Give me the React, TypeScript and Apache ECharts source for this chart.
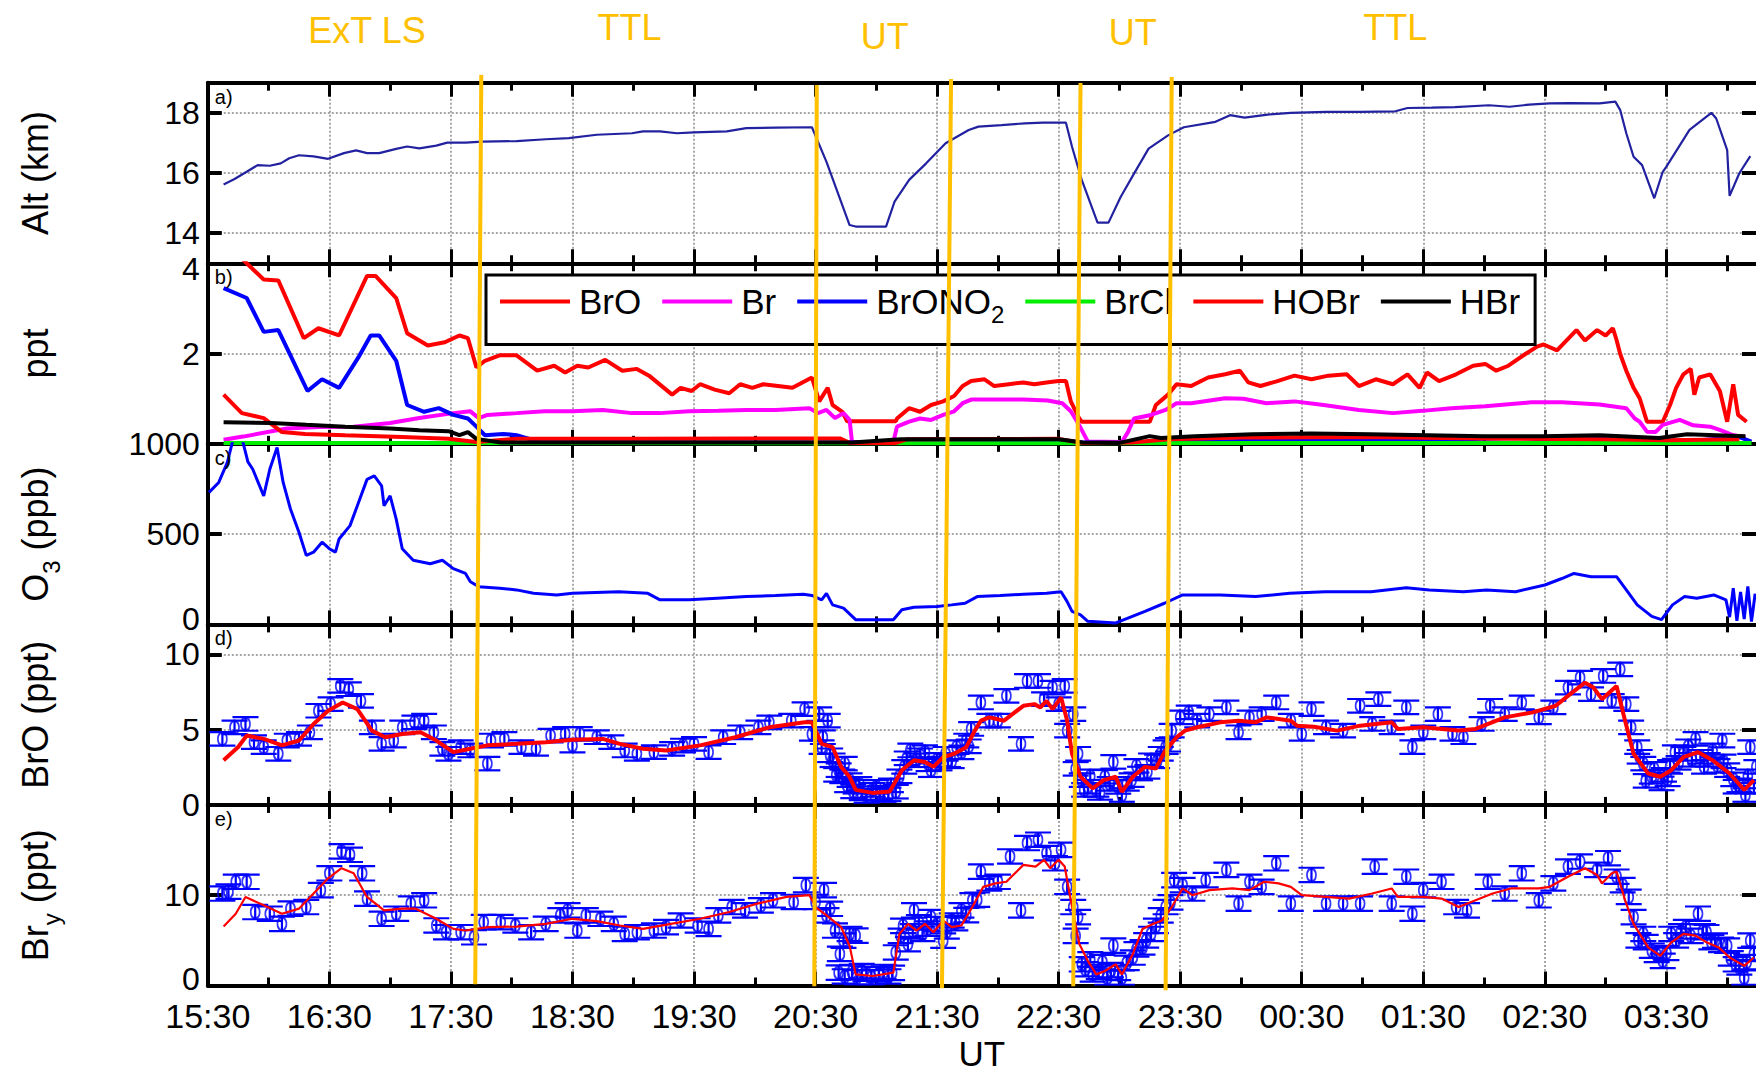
import React, { useEffect, useRef } from 'react';
import * as echarts from 'echarts';

// ---------------- DATA (x = hours since 15:30 UT) ----------------
const X_TICK_LABELS = ['15:30', '16:30', '17:30', '18:30', '19:30', '20:30', '21:30', '22:30', '23:30', '00:30', '01:30', '02:30', '03:30'];
const ALT_TICKS = [14, 16, 18];
const PPT_TICKS = [2, 4];
const O3_TICKS = [0, 500, 1000];
const BRO_TICKS = [0, 5, 10];
const BRY_TICKS = [0, 10];

const Y_TITLES = ['Alt (km)', 'ppt', '{a|O}{s|3}{a| (ppb)}', 'BrO (ppt)', '{a|Br}{s|y}{a| (ppt)}'];
const PANEL_LETTERS = ['a)', 'b)', 'c)', 'd)', 'e)'];
const X_TITLE = 'UT';

const REGION_NAMES = ['ExT LS', 'TTL', 'UT', 'UT', 'TTL'];
const REGION_NAME_T = [1.31, 3.47, 5.57, 7.61, 9.77];
// boundary lines: [time, Alt km] at top, [time, Bry ppt] at bottom
const REGION_LINE_TOP = [[2.25, 19.26], [5.01, 18.92], [6.115, 19.12], [7.18, 18.99], [7.93, 19.19]];
const REGION_LINE_BOTTOM = [[2.2, 0.15], [4.99, -0.08], [6.04, -0.3], [7.12, -0.08], [7.88, -0.53]];

const ALT = [[0.13,15.62],[0.22,15.8],[0.32,16.04],[0.41,16.26],[0.51,16.24],[0.6,16.32],[0.67,16.49],[0.75,16.59],[0.87,16.55],[0.99,16.47],[1.12,16.66],[1.22,16.75],[1.31,16.66],[1.41,16.66],[1.55,16.8],[1.64,16.88],[1.74,16.82],[1.88,16.91],[1.97,17.01],[2.12,17.01],[2.26,17.04],[2.54,17.06],[2.78,17.12],[2.97,17.16],[3.2,17.27],[3.49,17.32],[3.58,17.38],[3.72,17.38],[3.86,17.32],[4.0,17.35],[4.27,17.38],[4.43,17.49],[4.67,17.51],[4.97,17.52],[5.09,16.37],[5.28,14.27],[5.33,14.22],[5.58,14.22],[5.65,15.05],[5.77,15.77],[5.91,16.32],[6.07,16.99],[6.26,17.43],[6.34,17.54],[6.53,17.59],[6.72,17.65],[6.87,17.67],[7.06,17.67],[7.11,16.87],[7.19,15.77],[7.32,14.35],[7.41,14.35],[7.51,15.2],[7.62,15.98],[7.74,16.81],[7.9,17.25],[8.03,17.52],[8.29,17.7],[8.41,17.92],[8.53,17.84],[8.72,17.94],[8.91,18.0],[9.2,18.03],[9.48,18.03],[9.77,18.05],[9.87,18.16],[10.07,18.17],[10.26,18.19],[10.54,18.25],[10.71,18.2],[10.87,18.27],[11.04,18.31],[11.2,18.32],[11.45,18.31],[11.58,18.37],[11.62,18.09],[11.67,17.32],[11.73,16.54],[11.8,16.26],[11.9,15.16],[11.97,16.04],[12.0,16.21],[12.19,17.43],[12.37,18.0],[12.41,17.81],[12.5,16.76],[12.52,15.24],[12.6,15.99],[12.69,16.56]];

const B_NAMES = ['BrO', 'Br', 'BrONO2', 'BrCl', 'HOBr', 'HBr'];
const B_BRO = [[0.13,4.5],[0.32,4.0],[0.46,3.64],[0.58,3.62],[0.79,2.34],[0.91,2.56],[1.08,2.4],[1.31,3.72],[1.38,3.72],[1.55,3.23],[1.64,2.45],[1.81,2.18],[1.95,2.25],[2.07,2.4],[2.14,2.34],[2.21,1.69],[2.28,1.84],[2.4,1.96],[2.54,1.96],[2.71,1.62],[2.85,1.73],[2.94,1.58],[3.04,1.73],[3.13,1.69],[3.27,1.86],[3.41,1.62],[3.53,1.66],[3.63,1.51],[3.82,1.09],[3.89,1.24],[3.98,1.17],[4.05,1.32],[4.17,1.2],[4.29,1.12],[4.38,1.32],[4.48,1.24],[4.57,1.32],[4.81,1.24],[4.97,1.47],[5.03,0.94],[5.1,1.24],[5.14,0.86],[5.22,0.71],[5.26,0.5],[5.66,0.5],[5.67,0.56],[5.77,0.79],[5.86,0.71],[5.95,0.86],[6.05,0.94],[6.14,1.06],[6.21,1.28],[6.28,1.39],[6.39,1.43],[6.47,1.28],[6.59,1.32],[6.71,1.36],[6.8,1.32],[6.9,1.36],[7.0,1.39],[7.06,1.39],[7.1,0.94],[7.17,0.56],[7.19,0.49],[7.75,0.49],[7.8,0.86],[7.9,1.09],[7.97,1.32],[8.09,1.28],[8.23,1.47],[8.37,1.54],[8.49,1.62],[8.56,1.36],[8.66,1.28],[8.8,1.39],[8.94,1.51],[9.08,1.43],[9.22,1.51],[9.37,1.54],[9.47,1.28],[9.61,1.43],[9.75,1.32],[9.87,1.54],[9.97,1.24],[10.03,1.58],[10.13,1.39],[10.27,1.54],[10.41,1.73],[10.51,1.77],[10.6,1.62],[10.7,1.73],[10.84,1.99],[10.94,2.16],[10.99,2.2],[11.1,2.07],[11.26,2.52],[11.33,2.29],[11.43,2.52],[11.5,2.4],[11.56,2.56],[11.59,2.3],[11.62,1.99],[11.67,1.62],[11.73,1.24],[11.78,1.01],[11.84,0.49],[11.97,0.49],[12.03,0.86],[12.08,1.24],[12.14,1.54],[12.2,1.66],[12.23,1.09],[12.27,1.47],[12.36,1.54],[12.44,1.17],[12.5,0.49],[12.55,1.32],[12.59,0.64],[12.66,0.49]];
const B_BR = [[0.13,0.09],[0.29,0.16],[0.65,0.34],[0.92,0.37],[1.2,0.38],[1.5,0.46],[1.74,0.57],[2.02,0.68],[2.16,0.72],[2.23,0.57],[2.3,0.64],[2.54,0.68],[2.77,0.72],[3.0,0.72],[3.25,0.75],[3.49,0.68],[3.72,0.68],[3.96,0.72],[4.2,0.73],[4.43,0.75],[4.67,0.75],[4.95,0.79],[5.02,0.68],[5.09,0.75],[5.16,0.57],[5.23,0.68],[5.28,0.53],[5.3,0.04],[5.64,0.04],[5.67,0.38],[5.77,0.49],[5.86,0.56],[5.95,0.53],[6.05,0.64],[6.14,0.72],[6.21,0.9],[6.28,0.98],[6.47,0.98],[6.71,0.98],[6.91,0.96],[7.03,0.9],[7.1,0.72],[7.17,0.41],[7.24,0.05],[7.52,0.04],[7.57,0.26],[7.62,0.56],[7.76,0.64],[7.88,0.75],[7.97,0.9],[8.09,0.9],[8.37,1.01],[8.52,1.0],[8.71,0.9],[8.94,0.94],[9.18,0.86],[9.47,0.75],[9.75,0.68],[9.99,0.73],[10.23,0.79],[10.51,0.83],[10.89,0.92],[11.14,0.92],[11.45,0.87],[11.67,0.79],[11.74,0.56],[11.78,0.49],[11.84,0.27],[11.91,0.26],[11.97,0.42],[12.11,0.53],[12.22,0.41],[12.36,0.38],[12.45,0.3],[12.55,0.19],[12.65,0.15]];
const B_BRONO2 = [[0.13,3.45],[0.32,3.23],[0.46,2.48],[0.58,2.52],[0.68,1.96],[0.82,1.17],[0.94,1.43],[1.08,1.24],[1.24,1.92],[1.34,2.4],[1.41,2.4],[1.55,1.84],[1.64,0.86],[1.78,0.71],[1.9,0.79],[2.02,0.64],[2.14,0.56],[2.21,0.38],[2.28,0.19],[2.43,0.22],[2.54,0.19],[2.73,0.04],[5.0,0.03],[7.8,0.03],[8.5,0.06],[9.5,0.08],[10.3,0.1],[10.8,0.13],[11.0,0.1],[11.4,0.12],[11.8,0.08],[12.2,0.06],[12.6,0.15],[12.7,0.05]];
const B_BRCL = [[0.13,0.02],[3.0,0.02],[6.0,0.01],[9.0,0.02],[12.7,0.02]];
const B_HOBR = [[0.13,1.09],[0.28,0.68],[0.46,0.57],[0.61,0.26],[0.8,0.22],[1.13,0.19],[1.6,0.15],[1.98,0.11],[2.21,0.04],[2.54,0.11],[3.5,0.11],[4.5,0.12],[5.2,0.12],[5.28,0.02],[5.66,0.02],[5.75,0.1],[7.0,0.11],[7.2,0.02],[7.6,0.03],[7.9,0.1],[8.5,0.14],[9.5,0.15],[10.5,0.12],[11.5,0.1],[12.0,0.08],[12.6,0.1]];
const B_HBR = [[0.13,0.48],[0.52,0.46],[0.81,0.42],[1.13,0.38],[1.5,0.34],[1.74,0.3],[1.98,0.28],[2.07,0.19],[2.14,0.26],[2.21,0.11],[2.41,0.03],[5.3,0.03],[5.7,0.1],[7.0,0.1],[7.2,0.03],[7.5,0.02],[7.75,0.17],[7.84,0.13],[8.12,0.17],[8.6,0.21],[9.08,0.23],[9.56,0.21],[10.03,0.19],[10.5,0.17],[10.98,0.17],[11.45,0.19],[11.94,0.13],[12.17,0.21],[12.65,0.17]];

const O3 = [[0.01,731],[0.09,786],[0.16,896],[0.21,1030],[0.27,1060],[0.33,900],[0.37,859],[0.46,712],[0.51,859],[0.57,980],[0.62,786],[0.68,639],[0.75,510],[0.81,382],[0.87,400],[0.94,455],[1.0,419],[1.05,400],[1.08,473],[1.17,547],[1.24,675],[1.31,803],[1.37,822],[1.43,767],[1.45,657],[1.5,712],[1.55,583],[1.6,419],[1.69,355],[1.83,336],[1.93,355],[2.02,309],[2.12,282],[2.16,236],[2.23,209],[2.4,200],[2.54,191],[2.68,172],[2.87,163],[3.0,172],[3.38,181],[3.62,172],[3.72,136],[3.96,136],[4.19,145],[4.43,154],[4.67,160],[4.9,167],[4.97,160],[5.05,136],[5.09,172],[5.14,108],[5.23,90],[5.33,26],[5.64,26],[5.71,81],[5.81,95],[6.0,99],[6.12,108],[6.23,117],[6.33,154],[6.52,160],[6.71,167],[6.9,172],[7.02,181],[7.07,126],[7.11,72],[7.18,53],[7.24,17],[7.47,8],[7.57,35],[7.71,72],[7.87,117],[8.02,163],[8.33,163],[8.62,154],[8.9,172],[9.19,181],[9.57,181],[9.86,203],[10.05,191],[10.33,181],[10.52,191],[10.76,181],[11.0,218],[11.14,254],[11.24,282],[11.38,264],[11.59,264],[11.67,191],[11.76,108],[11.88,44],[11.96,26],[12.05,108],[12.15,154],[12.25,145],[12.39,163],[12.49,136],[12.52,40],[12.55,200],[12.58,20],[12.61,180],[12.64,30],[12.67,210],[12.7,15],[12.73,170]];

const BRO_ERR = 0.45;
const BRO_OBS = [[0.12,4.39],[0.22,5.16],[0.31,5.38],[0.38,4.17],[0.46,3.84],[0.58,3.4],[0.65,4.28],[0.75,4.39],[0.84,4.83],[0.91,6.26],[1.01,6.7],[1.09,7.91],[1.16,7.69],[1.26,6.92],[1.35,5.16],[1.43,4.06],[1.53,4.28],[1.6,5.16],[1.7,5.49],[1.78,5.6],[1.86,4.83],[1.93,3.73],[1.98,3.4],[2.08,3.84],[2.16,3.62],[2.3,2.75],[2.33,4.28],[2.44,4.39],[2.58,3.84],[2.7,3.73],[2.82,4.61],[2.94,4.72],[3.0,3.95],[3.06,4.72],[3.2,4.5],[3.32,4.17],[3.43,3.62],[3.53,3.4],[3.67,3.51],[3.82,3.73],[3.91,3.95],[4.0,4.06],[4.12,3.51],[4.24,4.5],[4.38,4.83],[4.53,5.16],[4.62,5.49],[4.8,5.6],[4.91,6.37],[4.97,4.72],[5.03,6.04],[5.05,3.84],[5.06,4.5],[5.1,5.6],[5.12,3.3],[5.14,2.97],[5.17,2.0],[5.19,2.31],[5.22,1.9],[5.24,2.75],[5.26,1.3],[5.28,1.65],[5.31,0.9],[5.33,1.21],[5.36,1.4],[5.38,0.77],[5.42,0.6],[5.47,1.0],[5.5,1.2],[5.53,0.8],[5.56,0.66],[5.6,0.7],[5.62,1.3],[5.66,0.88],[5.69,1.9],[5.73,2.53],[5.75,3.1],[5.78,3.62],[5.83,2.97],[5.86,3.3],[5.9,3.51],[5.93,2.7],[5.95,2.31],[6.0,3.0],[6.02,2.75],[6.07,3.4],[6.09,2.97],[6.12,2.9],[6.16,3.84],[6.2,3.5],[6.24,4.28],[6.26,3.9],[6.28,5.05],[6.36,6.81],[6.43,5.6],[6.5,5.6],[6.57,7.25],[6.69,4.06],[6.74,8.24],[6.83,8.24],[6.88,7.03],[6.95,7.8],[7.0,6.7],[7.05,7.91],[7.07,4.94],[7.12,6.04],[7.14,2.4],[7.16,3.4],[7.19,1.65],[7.21,1.0],[7.24,1.21],[7.26,1.9],[7.31,1.0],[7.34,0.8],[7.38,1.87],[7.42,1.4],[7.45,2.86],[7.49,1.2],[7.52,0.66],[7.56,1.4],[7.6,1.65],[7.64,2.6],[7.67,2.09],[7.73,2.2],[7.76,2.97],[7.81,2.9],[7.84,3.4],[7.88,3.84],[7.9,4.0],[7.93,4.94],[8.0,5.82],[8.07,6.15],[8.14,5.6],[8.24,6.04],[8.38,6.48],[8.48,4.83],[8.57,5.82],[8.67,6.04],[8.79,6.81],[8.91,5.6],[9.0,4.72],[9.08,6.37],[9.2,5.16],[9.34,4.94],[9.48,6.59],[9.58,5.38],[9.63,7.03],[9.74,5.16],[9.86,6.48],[9.91,3.84],[10.0,4.83],[10.12,6.04],[10.24,4.72],[10.33,4.5],[10.48,5.38],[10.55,6.59],[10.67,6.04],[10.81,6.81],[10.95,5.82],[11.07,6.48],[11.19,7.8],[11.29,8.46],[11.38,7.36],[11.48,8.57],[11.55,6.92],[11.62,9.01],[11.67,6.7],[11.71,5.16],[11.76,3.84],[11.78,3.2],[11.81,2.75],[11.83,1.6],[11.88,1.87],[11.9,2.4],[11.96,1.43],[11.98,2.0],[12.01,1.7],[12.03,2.53],[12.07,3.51],[12.1,2.8],[12.14,3.4],[12.18,3.9],[12.21,3.0],[12.24,4.39],[12.28,3.2],[12.31,2.53],[12.34,3.0],[12.38,3.62],[12.42,2.6],[12.46,4.28],[12.47,2.9],[12.5,2.31],[12.55,1.7],[12.57,1.21],[12.6,1.3],[12.65,0.66],[12.67,1.9],[12.69,3.84],[12.72,1.2],[12.74,2.53]];
const BRO_FIT = [[0.13,2.97],[0.25,3.85],[0.32,4.61],[0.46,4.39],[0.61,3.96],[0.75,4.28],[0.87,5.38],[0.99,6.26],[1.11,6.81],[1.23,6.37],[1.35,4.94],[1.46,4.5],[1.6,4.72],[1.75,4.83],[1.88,4.28],[2.02,3.51],[2.16,3.73],[2.3,3.96],[2.54,4.06],[2.78,4.17],[3.0,4.33],[3.25,4.39],[3.39,4.06],[3.58,3.73],[3.77,3.62],[4.05,3.96],[4.34,4.5],[4.62,5.16],[4.91,5.49],[4.97,5.49],[5.05,4.06],[5.14,3.84],[5.21,2.53],[5.28,1.87],[5.33,1.0],[5.47,0.8],[5.61,0.9],[5.71,2.3],[5.81,2.97],[5.9,2.86],[5.97,2.53],[6.05,3.18],[6.14,3.4],[6.24,3.84],[6.31,4.94],[6.36,5.6],[6.43,5.82],[6.55,5.6],[6.62,6.04],[6.71,6.59],[6.8,6.7],[6.85,6.48],[6.9,6.92],[6.95,6.37],[7.02,7.14],[7.07,5.6],[7.11,3.4],[7.18,1.87],[7.28,1.1],[7.37,1.65],[7.47,1.87],[7.52,0.88],[7.61,1.87],[7.71,2.53],[7.8,2.42],[7.87,3.51],[7.97,4.5],[8.04,4.94],[8.14,5.16],[8.33,5.49],[8.48,5.6],[8.62,5.49],[8.71,5.82],[8.81,5.71],[8.91,5.6],[8.96,5.27],[9.1,5.2],[9.29,4.94],[9.48,5.27],[9.74,5.49],[9.79,5.05],[10.0,5.16],[10.29,4.94],[10.43,5.05],[10.67,5.82],[10.9,6.15],[11.09,6.59],[11.19,7.25],[11.33,8.13],[11.4,7.8],[11.47,7.03],[11.59,7.91],[11.66,5.6],[11.73,3.4],[11.85,2.09],[11.95,1.87],[12.04,2.31],[12.14,3.18],[12.26,3.51],[12.38,2.97],[12.52,2.09],[12.64,1.0],[12.72,1.65]];

const BRY_ERR = 0.8;
const BRY_OBS = [[0.12,10.19],[0.17,10.4],[0.23,11.49],[0.32,11.49],[0.39,8.14],[0.51,7.95],[0.61,6.83],[0.68,8.51],[0.81,8.69],[0.93,10.56],[1.0,12.43],[1.1,14.85],[1.17,14.48],[1.27,12.43],[1.31,9.63],[1.43,7.39],[1.55,7.95],[1.67,9.07],[1.78,9.44],[1.88,6.65],[1.96,5.9],[2.08,5.9],[2.19,5.34],[2.27,7.02],[2.41,7.02],[2.53,6.65],[2.66,5.9],[2.78,6.83],[2.9,7.76],[2.96,8.32],[3.04,6.09],[3.11,7.76],[3.23,7.39],[3.34,6.83],[3.43,5.71],[3.53,5.9],[3.67,6.09],[3.77,6.46],[3.89,7.2],[4.03,6.65],[4.12,6.27],[4.2,7.76],[4.31,8.69],[4.42,8.32],[4.55,8.88],[4.65,9.44],[4.82,9.25],[4.92,11.12],[5.0,9.25],[5.07,10.56],[5.09,7.76],[5.12,8.5],[5.16,6.09],[5.19,1.42],[5.2,3.5],[5.23,4.97],[5.24,1.0],[5.28,5.71],[5.3,1.5],[5.33,5.52],[5.34,0.9],[5.38,1.6],[5.42,1.3],[5.46,0.9],[5.52,1.23],[5.56,1.5],[5.6,1.0],[5.63,1.4],[5.66,3.66],[5.7,5.5],[5.72,6.6],[5.76,4.59],[5.8,6.0],[5.81,8.32],[5.85,7.0],[5.88,5.71],[5.92,6.3],[5.95,7.58],[6.0,6.8],[6.05,4.97],[6.08,6.0],[6.12,7.2],[6.15,6.9],[6.2,8.32],[6.24,7.8],[6.29,9.44],[6.33,9.5],[6.36,12.61],[6.43,11.31],[6.5,11.49],[6.6,14.29],[6.69,8.32],[6.74,15.78],[6.83,16.15],[6.9,14.66],[6.97,13.54],[7.02,15.03],[7.07,10.93],[7.12,8.69],[7.14,5.5],[7.16,7.58],[7.19,2.35],[7.22,1.8],[7.26,2.9],[7.28,1.23],[7.33,1.5],[7.36,2.6],[7.4,0.86],[7.43,1.7],[7.45,4.41],[7.49,1.4],[7.52,0.86],[7.56,2.5],[7.61,3.1],[7.64,4.0],[7.69,4.22],[7.72,5.0],[7.76,5.71],[7.8,6.6],[7.84,7.76],[7.88,8.69],[7.92,9.2],[7.95,11.68],[8.02,11.12],[8.1,10.19],[8.21,11.68],[8.38,12.8],[8.48,9.07],[8.57,11.49],[8.67,10.93],[8.79,13.54],[8.91,9.07],[9.08,12.24],[9.2,9.07],[9.34,9.07],[9.48,9.07],[9.6,13.17],[9.74,9.07],[9.86,12.05],[9.91,7.95],[10.0,10.56],[10.15,11.49],[10.27,8.69],[10.36,8.32],[10.53,11.49],[10.67,10.19],[10.81,12.43],[10.95,9.44],[11.07,11.31],[11.19,13.17],[11.29,13.73],[11.43,12.8],[11.52,14.1],[11.59,12.05],[11.64,11.12],[11.69,9.81],[11.73,7.58],[11.77,5.0],[11.81,5.71],[11.83,4.8],[11.88,3.85],[11.92,3.4],[11.97,2.73],[12.0,3.6],[12.04,5.71],[12.08,5.0],[12.12,6.0],[12.16,6.46],[12.2,5.5],[12.26,7.95],[12.3,6.0],[12.33,5.9],[12.37,4.8],[12.4,4.97],[12.45,4.5],[12.5,4.41],[12.53,3.0],[12.57,2.35],[12.6,2.0],[12.64,0.86],[12.66,2.6],[12.69,4.97],[12.72,3.5]];
const BRY_FIT = [[0.13,6.53],[0.23,7.95],[0.31,9.81],[0.46,8.88],[0.61,7.95],[0.75,8.51],[0.87,10.19],[0.99,11.87],[1.1,12.99],[1.2,12.43],[1.31,9.81],[1.45,8.32],[1.6,8.51],[1.71,8.51],[1.88,7.39],[2.02,6.27],[2.12,6.09],[2.31,6.46],[2.54,6.53],[2.78,6.83],[3.0,7.39],[3.2,7.13],[3.39,6.65],[3.58,6.27],[3.81,6.83],[4.05,7.39],[4.29,8.14],[4.52,9.07],[4.76,9.81],[4.95,10.0],[5.0,8.69],[5.09,7.76],[5.21,6.46],[5.28,4.41],[5.33,1.23],[5.47,1.05],[5.64,1.42],[5.69,5.71],[5.76,6.83],[5.83,6.09],[5.9,6.83],[5.97,5.9],[6.05,7.2],[6.12,6.46],[6.2,6.65],[6.29,8.69],[6.38,10.93],[6.48,11.31],[6.57,11.49],[6.71,13.36],[6.81,13.17],[6.88,13.92],[6.93,12.99],[7.0,13.92],[7.05,13.17],[7.1,9.44],[7.17,4.59],[7.24,2.73],[7.31,1.23],[7.38,1.6],[7.47,2.35],[7.52,1.23],[7.61,3.47],[7.69,6.27],[7.78,6.83],[7.85,7.2],[7.93,8.69],[8.02,10.75],[8.1,10.0],[8.24,10.56],[8.43,10.75],[8.57,10.56],[8.69,11.49],[8.81,11.31],[8.91,10.93],[9.0,10.0],[9.2,9.81],[9.39,9.63],[9.58,10.19],[9.74,10.75],[9.79,9.81],[10.0,9.81],[10.15,9.63],[10.29,8.69],[10.43,9.44],[10.57,10.19],[10.72,10.75],[10.95,10.75],[11.04,10.93],[11.19,12.05],[11.33,12.99],[11.43,12.24],[11.47,11.31],[11.55,12.43],[11.59,12.61],[11.66,9.44],[11.73,6.83],[11.85,4.22],[11.95,3.29],[12.04,4.78],[12.14,5.71],[12.24,5.52],[12.33,4.78],[12.43,4.22],[12.52,3.1],[12.64,2.17],[12.72,3.1]];

// ---------------- LAYOUT & STYLE ----------------
const W = 1756;
const H = 1071;
const GRID_LEFT = 207.8;
const HOUR_PX = 121.55;
const X_MAX = 13;
const GRID_W = X_MAX * HOUR_PX;
const VISIBLE_RIGHT = W;
const PANEL_TOP0 = 82.7;
const PANEL_H = 180.56;
const FONT = "'Liberation Sans', Arial, Helvetica, sans-serif";
const ORANGE = '#FFC000';
const REGION_NAME_Y = [30, 27, 36, 32, 27];
const DOTTED = { color: '#8a8a8a', width: 1.5, type: [2, 2] };
const Y_LABEL_FS = 32;

// nudge: which boundary label is shifted away from a neighbouring panel's label
const PANEL_Y = [
  { min: 13, max: 19, splitNumber: 3, ticks: ALT_TICKS, nudge: '' },
  { min: 0, max: 4, interval: 2, ticks: PPT_TICKS, nudge: 'down' },
  { min: 0, max: 1000, interval: 500, ticks: O3_TICKS, nudge: 'up' },
  { min: 0, max: 12, interval: 5, ticks: BRO_TICKS, nudge: '' },
  { min: 0, max: 20, interval: 10, ticks: BRY_TICKS, nudge: 'up2' },
];

function buildOption(): any {
  const grids: any[] = [];
  const xAxes: any[] = [];
  const yAxes: any[] = [];
  const yRich = {
    n: { fontSize: Y_LABEL_FS, lineHeight: 26, fontFamily: FONT, color: '#000' },
    dn: { fontSize: Y_LABEL_FS, lineHeight: 26, fontFamily: FONT, color: '#000', padding: [12, 0, 0, 0] },
    up: { fontSize: Y_LABEL_FS, lineHeight: 26, fontFamily: FONT, color: '#000', padding: [0, 0, 10, 0] },
    up2: { fontSize: Y_LABEL_FS, lineHeight: 26, fontFamily: FONT, color: '#000', padding: [0, 0, 14, 0] },
  };
  for (let i = 0; i < 5; i++) {
    grids.push({ left: GRID_LEFT, top: PANEL_TOP0 + i * PANEL_H, width: GRID_W, height: PANEL_H, containLabel: false, outerBoundsMode: 'none' });
    const xc = {
      type: 'value', gridIndex: i, min: 0, max: X_MAX, interval: 1,
      axisLine: { show: true, onZero: false, lineStyle: { color: '#000', width: 4 } },
      axisTick: { show: true, inside: true, length: 14, lineStyle: { color: '#000', width: 3 } },
      minorTick: { show: true, splitNumber: 2, length: 8, lineStyle: { color: '#000', width: 3 } },
      minorSplitLine: { show: false },
    };
    xAxes.push({
      ...xc, position: 'bottom',
      axisLabel: {
        show: i === 4, color: '#000', fontSize: 34, lineHeight: 26, fontFamily: FONT, margin: 17,
        formatter: (v: number) => (Number.isInteger(v) && X_TICK_LABELS[v] !== undefined ? X_TICK_LABELS[v] : ''),
      },
      splitLine: { show: true, lineStyle: DOTTED },
    });
    xAxes.push({ ...xc, position: 'top', axisLabel: { show: false }, splitLine: { show: false } });

    const p = PANEL_Y[i];
    const yc: any = { type: 'value', gridIndex: i, min: p.min, max: p.max };
    if (p.interval) yc.interval = p.interval;
    if (p.splitNumber) yc.splitNumber = p.splitNumber;
    yAxes.push({
      ...yc, position: 'left',
      axisLine: { show: true, onZero: false, lineStyle: { color: '#000', width: 4 } },
      axisTick: { show: true, inside: true, length: 14, lineStyle: { color: '#000', width: 4 } },
      axisLabel: {
        show: true, color: '#000', fontSize: Y_LABEL_FS, lineHeight: 26, fontFamily: FONT, margin: 8,
        rich: yRich,
        formatter: (v: number) => {
          if (p.ticks.indexOf(v) < 0) return '';
          if (p.nudge === 'down' && v === p.max) return '{dn|' + v + '}';
          if ((p.nudge === 'up' || p.nudge === 'up2') && v === p.min) return '{' + p.nudge + '|' + v + '}';
          return '{n|' + v + '}';
        },
      },
      splitLine: { show: true, lineStyle: DOTTED },
    });
    yAxes.push({
      ...yc, position: 'right', offset: VISIBLE_RIGHT - (GRID_LEFT + GRID_W),
      axisLine: { show: false, onZero: false },
      axisTick: { show: true, inside: true, length: 14, lineStyle: { color: '#000', width: 4 } },
      axisLabel: { show: false },
      splitLine: { show: false },
    });
  }

  const line = (name: string, data: number[][], panel: number, color: string, width: number, z = 3) => ({
    type: 'line', name, data, xAxisIndex: 2 * panel, yAxisIndex: 2 * panel,
    color, itemStyle: { color }, lineStyle: { color, width },
    showSymbol: false, symbol: 'none', clip: true, silent: true, z,
  });

  const errRender = (cap: number) => (params: any, api: any) => {
    const x = api.value(0);
    const y = api.value(1);
    const e = api.value(2);
    const p1 = api.coord([x, y + e]);
    const p2 = api.coord([x, y - e]);
    const style = { stroke: '#0000ff', lineWidth: 2.2 };
    return {
      type: 'group',
      children: [
        { type: 'line', shape: { x1: p1[0], y1: p1[1], x2: p2[0], y2: p2[1] }, style },
        { type: 'line', shape: { x1: p1[0] - cap / 2, y1: p1[1], x2: p1[0] + cap / 2, y2: p1[1] }, style },
        { type: 'line', shape: { x1: p2[0] - cap / 2, y1: p2[1], x2: p2[0] + cap / 2, y2: p2[1] }, style },
      ],
    };
  };

  const obsSeries = (name: string, data: number[][], err: number, panel: number) => [
    {
      type: 'custom', name: name + ' err', xAxisIndex: 2 * panel, yAxisIndex: 2 * panel,
      data: data.map((d) => [d[0], d[1], err]), encode: { x: 0, y: 1 },
      renderItem: errRender(26), clip: true, silent: true, z: 2,
    },
    {
      type: 'scatter', name, xAxisIndex: 2 * panel, yAxisIndex: 2 * panel, data,
      symbol: 'circle', symbolSize: [9, 13], clip: true, silent: true, z: 2,
      itemStyle: { color: 'rgba(0,0,0,0)', borderColor: '#0000ff', borderWidth: 2 },
    },
  ];

  const series: any[] = [
    line('Altitude', ALT, 0, '#2222a0', 2.2),
    line(B_NAMES[0], B_BRO, 1, '#ff0000', 4),
    line(B_NAMES[1], B_BR, 1, '#ff00ff', 4),
    line(B_NAMES[2], B_BRONO2, 1, '#0000ff', 4),
    line(B_NAMES[3], B_BRCL, 1, '#00ee00', 4),
    line(B_NAMES[4], B_HOBR, 1, '#ff0000', 4),
    line(B_NAMES[5], B_HBR, 1, '#000000', 4),
    line('O3', O3, 2, '#0000ff', 3),
    ...obsSeries('BrO obs', BRO_OBS, BRO_ERR, 3),
    line('BrO fit', BRO_FIT, 3, '#ff0000', 4, 5),
    ...obsSeries('Bry obs', BRY_OBS, BRY_ERR, 4),
    line('Bry fit', BRY_FIT, 4, '#ff0000', 2.2, 5),
  ];

  return {
    animation: false,
    backgroundColor: '#ffffff',
    textStyle: { fontFamily: FONT },
    grid: grids,
    xAxis: xAxes,
    yAxis: yAxes,
    legend: {
      show: true, data: B_NAMES, left: 486, top: 275, orient: 'horizontal',
      icon: 'rect', itemWidth: 70, itemHeight: 4, itemGap: 21,
      padding: [9, 15, 18, 14], borderColor: '#000', borderWidth: 3, borderRadius: 0,
      backgroundColor: '#ffffff', selectedMode: false, z: 10,
      formatter: (name: string) => (name === 'BrONO2' ? '{a|BrONO}{s|2}' : '{a|' + name + '}'),
      textStyle: {
        color: '#000', fontSize: 35, fontFamily: FONT,
        rich: {
          a: { fontSize: 35, fontFamily: FONT, color: '#000', lineHeight: 50, padding: [0, 0, 0, 4] },
          s: { fontSize: 24, fontFamily: FONT, color: '#000', lineHeight: 24, verticalAlign: 'bottom' },
        },
      },
    },
    series,
  };
}

export default function App() {
  const ref = useRef<HTMLDivElement>(null);
  useEffect(() => {
    if (!ref.current) return;
    const chart = echarts.init(ref.current, null, { renderer: 'svg' });
    chart.setOption(buildOption());

    const g: any[] = [];
    const richT = {
      a: { fontSize: 36, fontFamily: FONT, fill: '#000', lineHeight: 56 },
      s: { fontSize: 24, fontFamily: FONT, fill: '#000', lineHeight: 24, verticalAlign: 'bottom' },
    };
    Y_TITLES.forEach((t, i) => {
      g.push({
        type: 'text', x: 35, y: PANEL_TOP0 + (i + 0.5) * PANEL_H, rotation: Math.PI / 2, z: 50, silent: true,
        style: { text: t, fill: '#000', fontSize: 36, fontFamily: FONT, align: 'center', verticalAlign: 'middle', rich: richT },
      });
    });
    PANEL_LETTERS.forEach((t, i) => {
      g.push({
        type: 'text', x: GRID_LEFT + 7, y: PANEL_TOP0 + i * PANEL_H + 4, z: 50, silent: true,
        style: { text: t, fill: '#000', fontSize: 20, fontFamily: FONT, align: 'left', verticalAlign: 'top' },
      });
    });
    g.push({
      type: 'text', x: (GRID_LEFT + VISIBLE_RIGHT) / 2, y: 1053, z: 50, silent: true,
      style: { text: X_TITLE, fill: '#000', fontSize: 35, fontFamily: FONT, align: 'center', verticalAlign: 'middle' },
    });
    REGION_NAMES.forEach((t, i) => {
      const p = chart.convertToPixel({ xAxisIndex: 0, yAxisIndex: 0 } as any, [REGION_NAME_T[i], 16]) as number[];
      g.push({
        type: 'text', x: p[0], y: REGION_NAME_Y[i], z: 50, silent: true,
        style: { text: t, fill: ORANGE, fontSize: 36, fontFamily: FONT, align: 'center', verticalAlign: 'middle' },
      });
    });
    REGION_LINE_TOP.forEach((top, i) => {
      const p1 = chart.convertToPixel({ xAxisIndex: 0, yAxisIndex: 0 } as any, top) as number[];
      const p2 = chart.convertToPixel({ xAxisIndex: 8, yAxisIndex: 8 } as any, REGION_LINE_BOTTOM[i]) as number[];
      g.push({
        type: 'line', z: 100, silent: true,
        shape: { x1: p1[0], y1: p1[1], x2: p2[0], y2: p2[1] },
        style: { stroke: ORANGE, lineWidth: 4 },
      });
    });
    chart.setOption({ graphic: g });

    return () => chart.dispose();
  }, []);
  return (
    <div
      ref={ref}
      style={{ position: 'fixed', left: 0, top: 0, width: W + 'px', height: H + 'px', background: '#fff' }}
    />
  );
}
